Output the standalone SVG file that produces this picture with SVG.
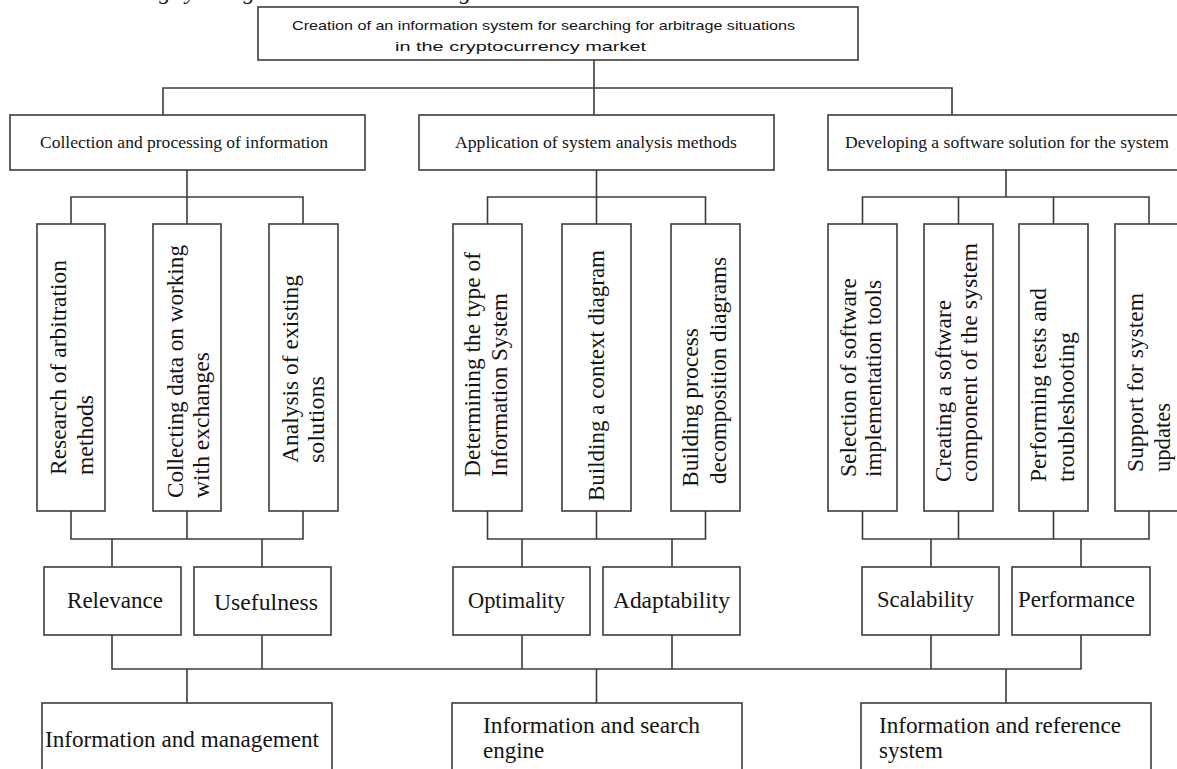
<svg xmlns="http://www.w3.org/2000/svg" width="1177" height="769" viewBox="0 0 1177 769">
  <style>
    .box{fill:#fff;stroke:#3c3c3c;stroke-width:1.6}
    .conn{fill:none;stroke:#3c3c3c;stroke-width:1.6}
    text{fill:#141414}
    .sans{font-family:"Liberation Sans",Arial,sans-serif;font-size:13.5px}
    .serif{font-family:"Liberation Serif","Times New Roman",serif}
    .h1{font-size:17.5px}
    .v{font-size:23px}
    .big{font-size:23px}
    .cap{font-family:"Liberation Serif","Times New Roman",serif;font-size:22px;font-style:italic}
  </style>

  <!-- caption line above the figure, mostly cut off by the top edge -->
  <text class="cap" x="50" y="-1.5" textLength="450" lengthAdjust="spacingAndGlyphs">The resulting system goal tree is shown in Fig. 3.</text>

  <!-- connectors -->
  <g id="connectors" class="conn">
    <path d="M594 60 V115 M163 115 V88 H952 V115"/>
    <path d="M187 170 V224 M71 224 V197 H303 V224"/>
    <path d="M596.5 170 V224 M487.5 224 V197 H705.5 V224"/>
    <path d="M1006 170 V197 M862.5 224 V197 H1149 V224 M958.5 197 V224 M1053.5 197 V224"/>
    <path d="M71 511 V539 H303 V511 M187 511 V539 M112 539 V567 M262 539 V567"/>
    <path d="M487.5 511 V539 H705.5 V511 M596.5 511 V539 M522 539 V567 M672 539 V567"/>
    <path d="M862.5 511 V539 H1149 V511 M958.5 511 V539 M1053.5 511 V539 M931 539 V567 M1081 539 V567"/>
    <path d="M112 635 V669 H1081 V635 M262 635 V669 M522 635 V669 M672 635 V669 M931 635 V669"/>
    <path d="M187 669 V703 M596.5 669 V703 M1006 669 V703"/>
  </g>

  <!-- root goal -->
  <g id="root">
    <rect class="box" x="258" y="7" width="600" height="53"/>
    <text class="sans" x="292" y="30" textLength="503" lengthAdjust="spacingAndGlyphs">Creation of an information system for searching for arbitrage situations</text>
    <text class="sans" x="395" y="51" textLength="251" lengthAdjust="spacingAndGlyphs">in the cryptocurrency market</text>
  </g>

  <!-- first-level subgoals -->
  <g id="collection" class="serif h1">
    <rect class="box" x="10" y="115" width="355" height="55"/>
    <text x="40" y="148" textLength="288" lengthAdjust="spacingAndGlyphs">Collection and processing of information</text>
  </g>
  <g id="analysis" class="serif h1">
    <rect class="box" x="419" y="115" width="355" height="55"/>
    <text x="455" y="148" textLength="282" lengthAdjust="spacingAndGlyphs">Application of system analysis methods</text>
  </g>
  <g id="software" class="serif h1">
    <rect class="box" x="828" y="115" width="360" height="55"/>
    <text x="845" y="148" textLength="324" lengthAdjust="spacingAndGlyphs">Developing a software solution for the system</text>
  </g>

  <!-- second-level tasks (vertical labels) -->
  <g id="research" class="serif v">
    <rect class="box" x="37" y="224" width="68" height="287"/>
    <text transform="translate(66 475) rotate(-90)" textLength="215" lengthAdjust="spacingAndGlyphs">Research of arbitration</text>
    <text transform="translate(93 475) rotate(-90)" textLength="80" lengthAdjust="spacingAndGlyphs">methods</text>
  </g>
  <g id="collecting" class="serif v">
    <rect class="box" x="153" y="224" width="68" height="287"/>
    <text transform="translate(183 498) rotate(-90)" textLength="253" lengthAdjust="spacingAndGlyphs">Collecting data on working</text>
    <text transform="translate(209 498) rotate(-90)" textLength="146" lengthAdjust="spacingAndGlyphs">with exchanges</text>
  </g>
  <g id="existing" class="serif v">
    <rect class="box" x="269" y="224" width="69" height="287"/>
    <text transform="translate(298 463) rotate(-90)" textLength="188" lengthAdjust="spacingAndGlyphs">Analysis of existing</text>
    <text transform="translate(324 463) rotate(-90)" textLength="87" lengthAdjust="spacingAndGlyphs">solutions</text>
  </g>
  <g id="is-type" class="serif v">
    <rect class="box" x="453" y="224" width="69" height="287"/>
    <text transform="translate(480 477) rotate(-90)" textLength="225" lengthAdjust="spacingAndGlyphs">Determining the type of</text>
    <text transform="translate(507 477) rotate(-90)" textLength="184" lengthAdjust="spacingAndGlyphs">Information System</text>
  </g>
  <g id="context" class="serif v">
    <rect class="box" x="562" y="224" width="69" height="287"/>
    <text transform="translate(604 501) rotate(-90)" textLength="251" lengthAdjust="spacingAndGlyphs">Building a context diagram</text>
  </g>
  <g id="decomposition" class="serif v">
    <rect class="box" x="671" y="224" width="69" height="287"/>
    <text transform="translate(698 487) rotate(-90)" textLength="159" lengthAdjust="spacingAndGlyphs">Building process</text>
    <text transform="translate(726 484) rotate(-90)" textLength="227" lengthAdjust="spacingAndGlyphs">decomposition diagrams</text>
  </g>
  <g id="tools" class="serif v">
    <rect class="box" x="828" y="224" width="69" height="287"/>
    <text transform="translate(856 477) rotate(-90)" textLength="199" lengthAdjust="spacingAndGlyphs">Selection of software</text>
    <text transform="translate(881 477) rotate(-90)" textLength="197" lengthAdjust="spacingAndGlyphs">implementation tools</text>
  </g>
  <g id="component" class="serif v">
    <rect class="box" x="924" y="224" width="69" height="287"/>
    <text transform="translate(951 482) rotate(-90)" textLength="182" lengthAdjust="spacingAndGlyphs">Creating a software</text>
    <text transform="translate(977 482) rotate(-90)" textLength="239" lengthAdjust="spacingAndGlyphs">component of the system</text>
  </g>
  <g id="testing" class="serif v">
    <rect class="box" x="1019" y="224" width="69" height="287"/>
    <text transform="translate(1046 482) rotate(-90)" textLength="194" lengthAdjust="spacingAndGlyphs">Performing tests and</text>
    <text transform="translate(1074 482) rotate(-90)" textLength="150" lengthAdjust="spacingAndGlyphs">troubleshooting</text>
  </g>
  <g id="updates" class="serif v">
    <rect class="box" x="1115" y="224" width="69" height="287"/>
    <text transform="translate(1143 472) rotate(-90)" textLength="179" lengthAdjust="spacingAndGlyphs">Support for system</text>
    <text transform="translate(1170 472) rotate(-90)" textLength="69" lengthAdjust="spacingAndGlyphs">updates</text>
  </g>

  <!-- quality criteria -->
  <g id="relevance" class="serif big">
    <rect class="box" x="44" y="567" width="137" height="68"/>
    <text x="67" y="608" textLength="96" lengthAdjust="spacingAndGlyphs">Relevance</text>
  </g>
  <g id="usefulness" class="serif big">
    <rect class="box" x="194" y="567" width="137" height="68"/>
    <text x="214" y="610" textLength="104" lengthAdjust="spacingAndGlyphs">Usefulness</text>
  </g>
  <g id="optimality" class="serif big">
    <rect class="box" x="453" y="567" width="137" height="68"/>
    <text x="468" y="608" textLength="97" lengthAdjust="spacingAndGlyphs">Optimality</text>
  </g>
  <g id="adaptability" class="serif big">
    <rect class="box" x="603" y="567" width="137" height="68"/>
    <text x="613" y="608" textLength="117" lengthAdjust="spacingAndGlyphs">Adaptability</text>
  </g>
  <g id="scalability" class="serif big">
    <rect class="box" x="862" y="567" width="137" height="68"/>
    <text x="877" y="607" textLength="97" lengthAdjust="spacingAndGlyphs">Scalability</text>
  </g>
  <g id="performance" class="serif big">
    <rect class="box" x="1012" y="567" width="138" height="68"/>
    <text x="1018" y="607" textLength="117" lengthAdjust="spacingAndGlyphs">Performance</text>
  </g>

  <!-- resulting system types -->
  <g id="management" class="serif big">
    <rect class="box" x="42" y="703" width="290" height="90"/>
    <text x="45" y="747" textLength="274" lengthAdjust="spacingAndGlyphs">Information and management</text>
  </g>
  <g id="search-engine" class="serif big">
    <rect class="box" x="452" y="703" width="290" height="90"/>
    <text x="483" y="733" textLength="217" lengthAdjust="spacingAndGlyphs">Information and search</text>
    <text x="483" y="758">engine</text>
  </g>
  <g id="reference" class="serif big">
    <rect class="box" x="861" y="703" width="290" height="90"/>
    <text x="879" y="733" textLength="242" lengthAdjust="spacingAndGlyphs">Information and reference</text>
    <text x="879" y="758">system</text>
  </g>
</svg>
